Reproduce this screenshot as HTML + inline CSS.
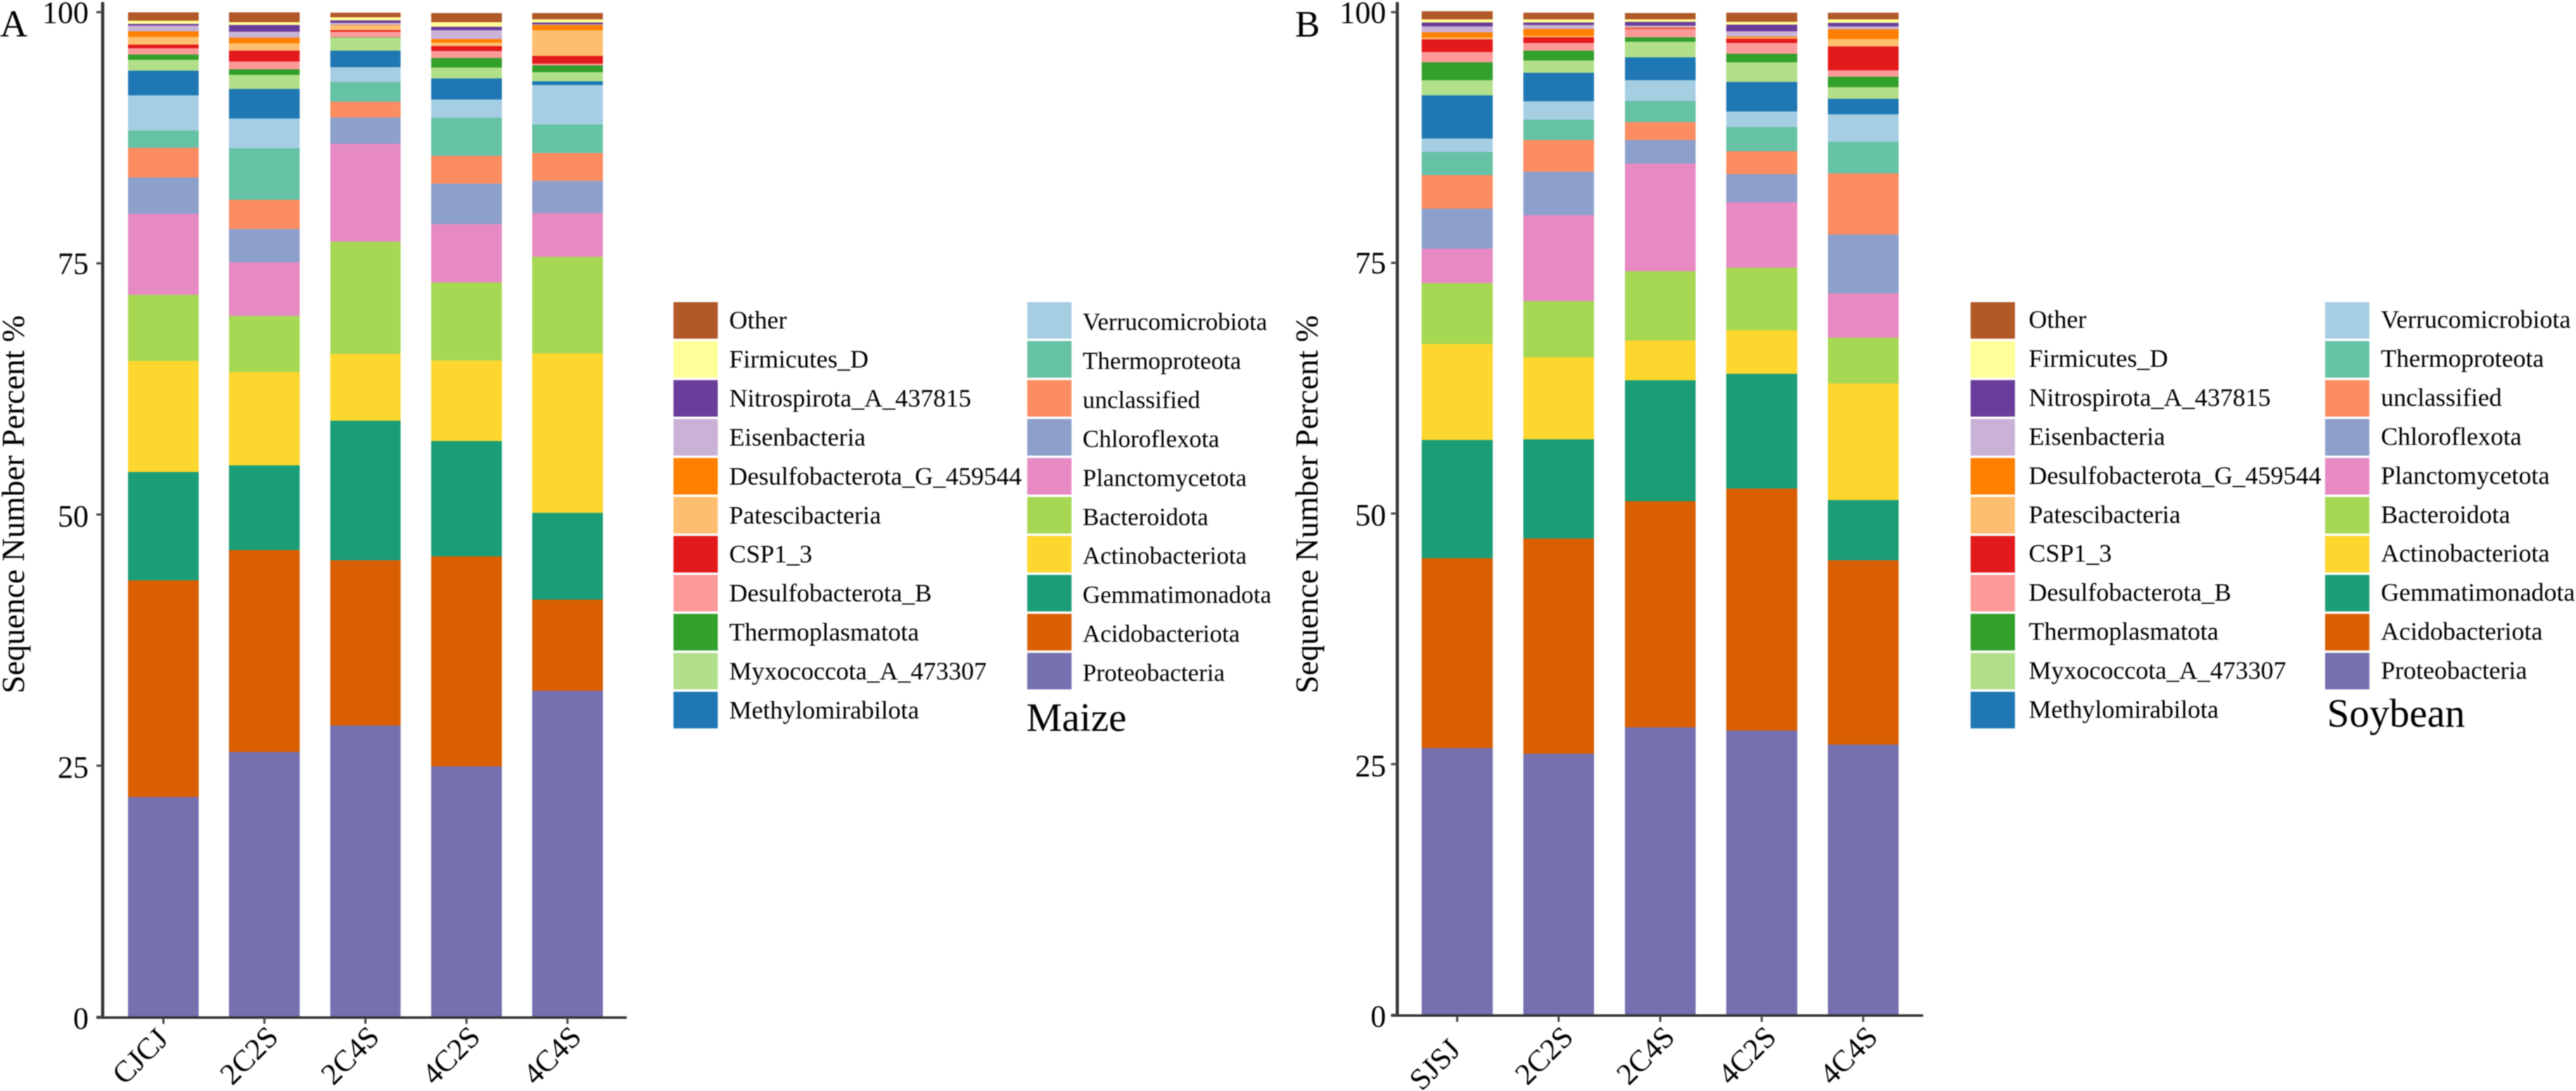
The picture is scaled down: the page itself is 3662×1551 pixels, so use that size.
<!DOCTYPE html>
<html lang="en">
<head>
<meta charset="utf-8">
<title>Sequence Number Percent by phylum: Maize and Soybean</title>
<style>
html,body{margin:0;padding:0;background:#fff;width:3662px;height:1551px;overflow:hidden}
svg{display:block;filter:blur(0.7px)}
text{font-family:"Liberation Serif",serif;fill:#000}
</style>
</head>
<body>
<svg id="figure" xmlns="http://www.w3.org/2000/svg" width="3662" height="1551" viewBox="0 0 3662 1551">
  <rect x="0" y="0" width="3662" height="1551" fill="#fff"/>
  <g id="panel-a">
    <text x="0" y="52" font-size="54">A</text>
    <text transform="translate(34 717) rotate(-90)" text-anchor="middle" font-size="46">Sequence Number Percent %</text>
    <text x="1459" y="1039" font-size="57">Maize</text>
  </g>
  <g id="panel-b">
    <text x="1841" y="52" font-size="53">B</text>
    <text transform="translate(1873 717) rotate(-90)" text-anchor="middle" font-size="46">Sequence Number Percent %</text>
    <text x="3308" y="1033" font-size="57">Soybean</text>
  </g>
</svg>
<script>
// Stack order: bottom to top
const taxa = ["Proteobacteria","Acidobacteriota","Gemmatimonadota","Actinobacteriota","Bacteroidota","Planctomycetota","Chloroflexota","unclassified","Thermoproteota","Verrucomicrobiota","Methylomirabilota","Myxococcota_A_473307","Thermoplasmatota","Desulfobacterota_B","CSP1_3","Patescibacteria","Desulfobacterota_G_459544","Eisenbacteria","Nitrospirota_A_437815","Firmicutes_D","Other"];
const taxaColors = ["#7570b0","#d95f02","#1b9e77","#fdd62e","#a6d854","#e78ac3","#8da0cb","#fc8d62","#66c2a5","#a6cee3","#1f78b4","#b2df8a","#33a02c","#fb9a99","#e31a1c","#fdbf6f","#ff7f00","#cab2d6","#6a3d9a","#ffff99","#b15928"];
const yTicks = [0,25,50,75,100];

const maizeCategories = ["CJCJ","2C2S","2C4S","4C2S","4C4S"];
const maizeCJCJ = [21.87,21.57,10.78,11.06,6.60,8.05,3.62,2.96,1.73,3.47,2.45,1.10,0.54,0.63,0.35,0.74,0.59,0.53,0.19,0.33,0.81];
const maize2C2S = [26.35,20.10,8.44,9.29,5.60,5.32,3.31,2.90,5.13,2.99,2.91,1.40,0.59,0.74,1.10,0.75,0.53,0.61,0.65,0.28,0.98];
const maize2C4S = [28.98,16.45,13.93,6.63,11.18,9.73,2.61,1.59,1.96,1.47,1.63,1.31,0.04,0.54,0.14,0.49,0.05,0.21,0.23,0.33,0.46];
const maize4C2S = [24.94,20.90,11.46,8.03,7.76,5.82,4.03,2.78,3.78,1.80,2.12,1.07,0.94,0.72,0.49,0.35,0.35,0.86,0.35,0.47,0.91];
const maize4C4S = [32.47,9.06,8.63,15.87,9.63,4.34,3.22,2.76,2.84,3.92,0.40,0.89,0.67,0.19,0.75,2.56,0.54,0.05,0.18,0.31,0.65];

const soyCategories = ["SJSJ","2C2S","2C4S","4C2S","4C4S"];
const soySJSJ = [26.62,18.94,11.76,9.57,6.10,3.44,3.97,3.33,2.34,1.31,4.32,1.52,1.80,1.00,1.26,0.19,0.53,0.59,0.39,0.31,0.79];
const soy2C2S = [26.03,21.47,9.89,8.17,5.61,8.58,4.35,3.16,2.03,1.82,2.83,1.24,1.00,0.75,0.58,0.14,0.70,0.38,0.25,0.31,0.65];
const soy2C4S = [28.67,22.57,12.07,3.95,6.92,10.71,2.36,1.80,2.10,2.06,2.29,1.54,0.46,0.84,0.05,0.05,0.04,0.19,0.37,0.24,0.65];
const soy4C2S = [28.37,24.13,11.44,4.35,6.24,6.52,2.81,2.27,2.41,1.57,2.92,1.99,0.81,1.12,0.40,0.12,0.11,0.52,0.65,0.30,0.89];
const soy4C4S = [26.97,18.35,6.01,11.65,4.56,4.42,5.87,6.08,3.16,2.76,1.52,1.15,1.05,0.65,2.39,0.72,0.98,0.31,0.35,0.32,0.68];

const maizeSamples = [maizeCJCJ,maize2C2S,maize2C4S,maize4C2S,maize4C4S];
const soySamples = [soySJSJ,soy2C2S,soy2C4S,soy4C2S,soy4C4S];

const NS = "http://www.w3.org/2000/svg";
function svgEl(tag, parent, attrs){
  const el = document.createElementNS(NS, tag);
  for (const k in attrs) el.setAttribute(k, attrs[k]);
  parent.appendChild(el);
  return el;
}
function slug(s){ return s.toLowerCase().replace(/[^a-z0-9]+/g,'-'); }

function drawPanel(p){
  const root = document.getElementById(p.id);
  const y = v => p.y0 - v * p.yScale;
  const x = i => p.xStart + i * p.xStep;

  // bars
  p.samples.forEach((vals, i) => {
    const g = svgEl('g', root, {});
    
    
    let cum = 0;
    vals.forEach((v, s) => {
      const r = svgEl('rect', g, {
        x: x(i) - p.barW / 2,
        y: y(cum + v),
        width: p.barW,
        height: v * p.yScale,
        fill: taxaColors[s],
        'shape-rendering': 'crispEdges'
      });
      
      
      cum += v;
    });
  });

  // axes
  const yAxis = svgEl('line', root, {x1:p.axisX, x2:p.axisX, y1:3, y2:p.y0+2, stroke:'#333', 'stroke-width':4.5});
  
  
  const xAxis = svgEl('line', root, {x1:p.axisX-9, x2:p.axisEnd, y1:p.y0+1, y2:p.y0+1, stroke:'#333', 'stroke-width':3.5});
  
  

  yTicks.forEach(t => {
    const tk = svgEl('line', root, {x1:p.axisX-9, x2:p.axisX, y1:y(t), y2:y(t), stroke:'#444', 'stroke-width':3});
    
    
    const lb = svgEl('text', root, {x:p.axisX-p.tickGap, y:y(t)+ (t===100?15:t===75?15:17), 'text-anchor':'end', 'font-size':44});
    lb.textContent = t;
    
    
  });

  p.categories.forEach((c, i) => {
    const tk = svgEl('line', root, {x1:x(i), x2:x(i), y1:p.y0+1, y2:p.y0+10, stroke:'#444', 'stroke-width':3});
    
    
    const lx = x(i) + (i === 0 ? p.firstLabelDx : p.labelDx);
    const ly = p.y0 + (i === 0 ? p.firstLabelDy : p.labelDy);
    const lb = svgEl('text', root, {
      transform: 'translate(' + lx + ' ' + ly + ') rotate(-45)',
      'text-anchor': 'end',
      'font-size': 43
    });
    lb.textContent = c;
    
    
  });

  // legend
  const order = taxa.map((_, i) => taxa.length - 1 - i);
  order.forEach((s, k) => {
    const col = k < 11 ? 0 : 1;
    const row = col === 0 ? k : k - 11;
    const g = svgEl('g', root, {});
    
    
    svgEl('rect', g, {x:p.legendSwatchX[col], y:429.5 + row*55.4, width:63, height:52, fill:taxaColors[s]});
    const t = svgEl('text', g, {x:p.legendTextX[col], y:p.legendBase[col] + row*55.45, 'font-size':p.legendFont[col]});
    t.textContent = taxa[s];
  });
}

drawPanel({
  id:'panel-a', tag:'maize', samples:maizeSamples, categories:maizeCategories,
  y0:1445.6, yScale:14.283, xStart:232.3, xStep:143.6, barW:100.4,
  axisX:146, axisEnd:891, tickGap:20,
  labelDx:22, labelDy:31, firstLabelDx:9, firstLabelDy:34,
  legendSwatchX:[957.4,1460.3], legendTextX:[1036.6,1539], legendBase:[467,469], legendFont:[36,35]
});
drawPanel({
  id:'panel-b', tag:'soybean', samples:soySamples, categories:soyCategories,
  y0:1442.7, yScale:14.254, xStart:2071.5, xStep:144.3, barW:100.7,
  axisX:1986.4, axisEnd:2734, tickGap:16,
  labelDx:23, labelDy:34, firstLabelDx:7, firstLabelDy:52,
  legendSwatchX:[2801.4,3305.3], legendTextX:[2884,3384.6], legendBase:[466,466], legendFont:[36,36]
});
</script>
</body>
</html>
